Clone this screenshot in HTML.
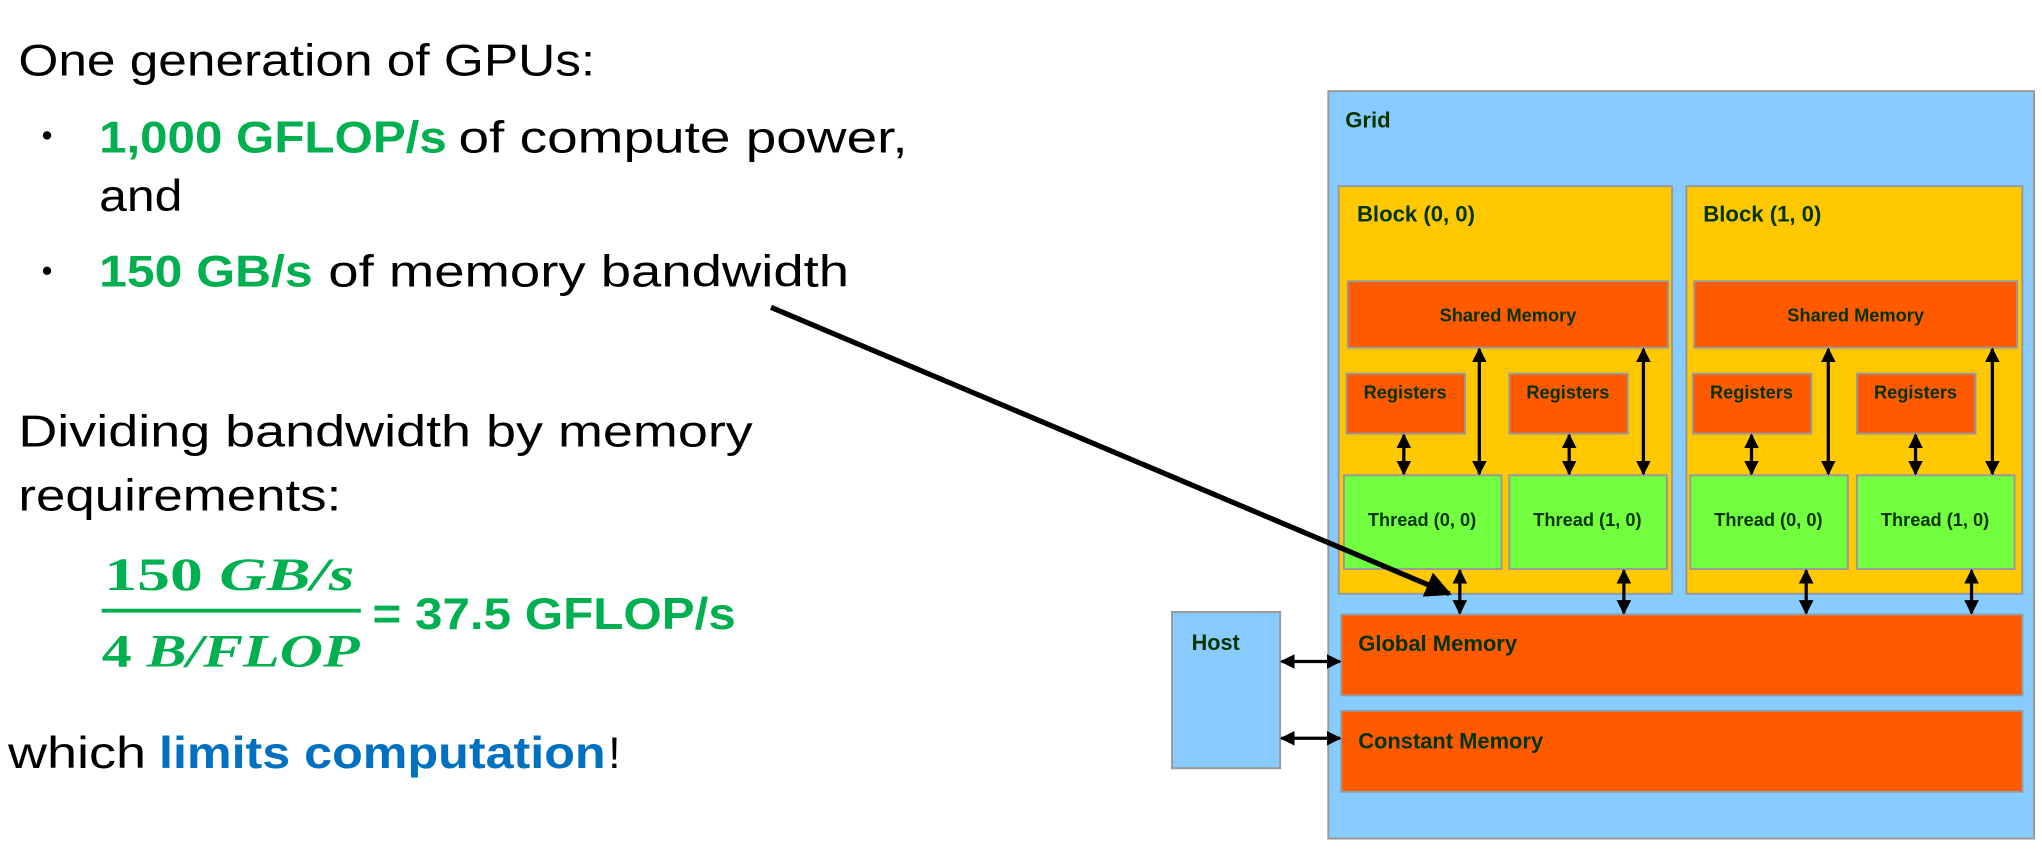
<!DOCTYPE html>
<html><head><meta charset="utf-8"><style>
html,body{margin:0;padding:0;background:#fff;}
svg{display:block;}
.t{font-family:"Liberation Sans",sans-serif;font-size:34px;fill:#000;}
.g{fill:#00B050;font-weight:bold;}
.b{fill:#0070C0;font-weight:bold;}
.d{font-family:"Liberation Sans",sans-serif;font-weight:bold;fill:#003300;}
</style></head><body>
<svg width="2042" height="862" viewBox="0 0 1568 662" xmlns="http://www.w3.org/2000/svg">
<defs>
<marker id="ah" viewBox="0 0 10 10" refX="9" refY="5" markerWidth="4.5" markerHeight="4.5" orient="auto-start-reverse"><path d="M0,0 L10,5 L0,10 z" fill="#000"/></marker>
<marker id="bh" viewBox="0 0 10 10" refX="9" refY="5" markerWidth="5" markerHeight="5" orient="auto"><path d="M0,0 L10,5 L0,10 z" fill="#000"/></marker>
</defs>
<!-- left text -->
<text class="t" x="14" y="58" textLength="443" lengthAdjust="spacingAndGlyphs">One generation of GPUs:</text>
<circle cx="36" cy="104" r="3.2" fill="#000"/>
<text class="t g" x="76" y="117" textLength="267" lengthAdjust="spacingAndGlyphs">1,000 GFLOP/s</text>
<text class="t" x="352" y="117" textLength="345" lengthAdjust="spacingAndGlyphs">of compute power,</text>
<text class="t" x="76" y="162" textLength="64" lengthAdjust="spacingAndGlyphs">and</text>
<circle cx="36" cy="208" r="3.2" fill="#000"/>
<text class="t g" x="76" y="220" textLength="164" lengthAdjust="spacingAndGlyphs">150 GB/s</text>
<text class="t" x="252" y="220" textLength="400" lengthAdjust="spacingAndGlyphs">of memory bandwidth</text>
<text class="t" x="14" y="343" textLength="564" lengthAdjust="spacingAndGlyphs">Dividing bandwidth by memory</text>
<text class="t" x="14" y="392" textLength="248" lengthAdjust="spacingAndGlyphs">requirements:</text>
<text x="80" y="453" font-family="Liberation Serif,serif" font-weight="bold" font-size="36" fill="#00B050" textLength="192" lengthAdjust="spacingAndGlyphs">150 <tspan font-style="italic">GB/s</tspan></text>
<line x1="78" y1="469" x2="277" y2="469" stroke="#00B050" stroke-width="3"/>
<text x="78" y="512" font-family="Liberation Serif,serif" font-weight="bold" font-size="36" fill="#00B050" textLength="198" lengthAdjust="spacingAndGlyphs">4 <tspan font-style="italic">B/FLOP</tspan></text>
<text class="t g" x="286" y="483" textLength="279" lengthAdjust="spacingAndGlyphs">= 37.5 GFLOP/s</text>
<text class="t" x="6" y="590" textLength="106" lengthAdjust="spacingAndGlyphs">which</text>
<text class="t b" x="122" y="590" textLength="343" lengthAdjust="spacingAndGlyphs">limits computation</text>
<text class="t" x="467" y="590">!</text>

<!-- diagram -->
<g stroke="#999" stroke-width="1.5">
<rect x="1020" y="70" width="542" height="574" fill="#88CCFF"/>
<rect x="1028" y="143" width="256" height="313" fill="#FFC800"/>
<rect x="1295" y="143" width="258" height="313" fill="#FFC800"/>
<rect x="1035" y="216" width="246" height="51" fill="#FF5A00"/>
<rect x="1301" y="216" width="248" height="51" fill="#FF5A00"/>
<rect x="1034" y="287" width="91" height="46" fill="#FF5A00"/>
<rect x="1159" y="287" width="91" height="46" fill="#FF5A00"/>
<rect x="1300" y="287" width="91" height="46" fill="#FF5A00"/>
<rect x="1426" y="287" width="91" height="46" fill="#FF5A00"/>
<rect x="1032" y="365" width="121" height="72" fill="#72FF40"/>
<rect x="1159" y="365" width="121" height="72" fill="#72FF40"/>
<rect x="1298" y="365" width="121" height="72" fill="#72FF40"/>
<rect x="1426" y="365" width="121" height="72" fill="#72FF40"/>
<rect x="1030" y="472" width="523" height="62" fill="#FF5A00"/>
<rect x="1030" y="546" width="523" height="62" fill="#FF5A00"/>
<rect x="900" y="470" width="83" height="120" fill="#88CCFF"/>
</g>
<g class="d" font-size="17">
<text x="1033" y="98">Grid</text>
<text x="1042" y="170">Block (0, 0)</text>
<text x="1308" y="170">Block (1, 0)</text>
<text x="915" y="499" font-size="17" textLength="37" lengthAdjust="spacingAndGlyphs">Host</text>
<text x="1043" y="500" textLength="122" lengthAdjust="spacingAndGlyphs">Global Memory</text>
<text x="1043" y="575" textLength="142" lengthAdjust="spacingAndGlyphs">Constant Memory</text>
</g>
<g class="d" font-size="14">
<text x="1158" y="247" text-anchor="middle">Shared Memory</text>
<text x="1425" y="247" text-anchor="middle">Shared Memory</text>
<text x="1079" y="306" text-anchor="middle">Registers</text>
<text x="1204" y="306" text-anchor="middle">Registers</text>
<text x="1345" y="306" text-anchor="middle">Registers</text>
<text x="1471" y="306" text-anchor="middle">Registers</text>
<text x="1092" y="404" text-anchor="middle">Thread (0, 0)</text>
<text x="1219" y="404" text-anchor="middle">Thread (1, 0)</text>
<text x="1358" y="404" text-anchor="middle">Thread (0, 0)</text>
<text x="1486" y="404" text-anchor="middle">Thread (1, 0)</text>
</g>
<g stroke="#000" stroke-width="2.5" marker-start="url(#ah)" marker-end="url(#ah)">
<line x1="1136" y1="268" x2="1136" y2="364"/>
<line x1="1262" y1="268" x2="1262" y2="364"/>
<line x1="1404" y1="268" x2="1404" y2="364"/>
<line x1="1530" y1="268" x2="1530" y2="364"/>
<line x1="1078" y1="334" x2="1078" y2="364"/>
<line x1="1205" y1="334" x2="1205" y2="364"/>
<line x1="1345" y1="334" x2="1345" y2="364"/>
<line x1="1471" y1="334" x2="1471" y2="364"/>
<line x1="1121" y1="438" x2="1121" y2="471"/>
<line x1="1247" y1="438" x2="1247" y2="471"/>
<line x1="1387" y1="438" x2="1387" y2="471"/>
<line x1="1514" y1="438" x2="1514" y2="471"/>
<line x1="984" y1="508" x2="1029" y2="508"/>
<line x1="984" y1="567" x2="1029" y2="567"/>
</g>
<line x1="592" y1="236" x2="1113" y2="456" stroke="#000" stroke-width="4" marker-end="url(#bh)"/>
</svg>
</body></html>
